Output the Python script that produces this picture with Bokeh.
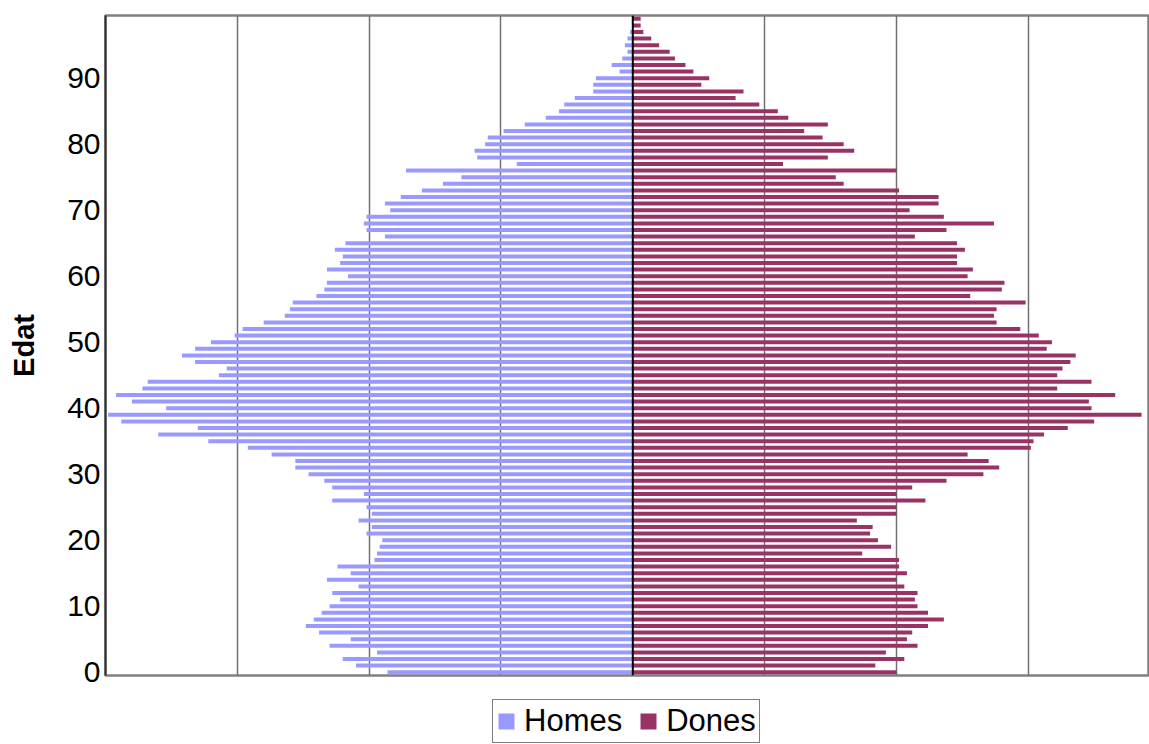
from bokeh.plotting import figure
from bokeh.layouts import column
from bokeh.models import Legend, LegendItem, Span, FixedTicker, ColumnDataSource, Range1d
from bokeh.embed import file_html
from bokeh.resources import INLINE

ages = list(range(100))
homes = [93, 105, 110, 97, 115, 107, 119, 124, 121, 118,
         115, 111, 114, 104, 116, 107, 112, 98, 97, 96,
         95, 101, 99, 104, 99, 101, 114, 102, 114, 117,
         123, 128, 128, 137, 146, 161, 180, 165, 194, 199,
         177, 190, 196, 186, 184, 157, 154, 166, 171, 166,
         160, 151, 148, 140, 132, 130, 129, 120, 117, 116,
         108, 116, 111, 110, 113, 109, 94, 101, 102, 101,
         92, 94, 88, 80, 72, 65, 86, 44, 59, 60,
         56, 55, 49, 41, 33, 28, 26, 22, 15, 15,
         14, 5, 8, 4, 2, 3, 2, 1, 0, 0]
dones = [100, 92, 103, 96, 108, 104, 106, 112, 118, 112,
         108, 107, 108, 103, 100, 104, 101, 101, 87, 98,
         93, 90, 91, 85, 100, 100, 111, 100, 106, 119,
         133, 139, 135, 127, 151, 152, 156, 165, 175, 193,
         174, 173, 183, 161, 174, 161, 163, 166, 168, 157,
         159, 154, 147, 138, 137, 138, 149, 128, 140, 141,
         127, 129, 123, 123, 126, 123, 107, 119, 137, 118,
         105, 116, 116, 101, 80, 77, 100, 57, 74, 84,
         80, 72, 65, 74, 59, 55, 48, 39, 42, 26,
         29, 23, 20, 16, 14, 10, 7, 4, 3, 3]
series_names = ["Homes", "Dones"]
series_colors = ["#9999FF", "#993366"]
y_ticks = [0, 10, 20, 30, 40, 50, 60, 70, 80, 90]
grid_ticks = [-150, -100, -50, 50, 100, 150]

FONT = "Liberation Sans"

src = ColumnDataSource(dict(
    age=ages,
    m_left=[-v for v in homes],
    zero=[0] * len(ages),
    f_right=dones,
))

p = figure(frame_width=1044, frame_height=660, output_backend="svg", toolbar_location=None,
           x_range=Range1d(-200, 196), y_range=Range1d(-0.5, 99.5),
           min_border_left=105, min_border_right=0, min_border_top=15, min_border_bottom=12)

p.background_fill_color = "white"
p.border_fill_color = "white"
p.outline_line_color = "#808080"
p.outline_line_width = 2.5

p.hbar(y="age", left="m_left", right="zero", height=0.6, source=src,
       fill_color=series_colors[0], line_color=None)
p.hbar(y="age", left="zero", right="f_right", height=0.6, source=src,
       fill_color=series_colors[1], line_color=None)

p.xaxis.visible = False

p.xgrid.ticker = FixedTicker(ticks=grid_ticks)
p.xgrid.grid_line_color = "#707070"
p.xgrid.grid_line_width = 1.5
p.ygrid.grid_line_color = None

p.add_layout(Span(location=0, dimension="height", line_color="black", line_width=2))

p.yaxis.ticker = FixedTicker(ticks=y_ticks)
p.yaxis.major_tick_out = 0
p.yaxis.major_tick_in = 0
p.yaxis.minor_tick_out = 0
p.yaxis.minor_tick_in = 0
p.yaxis.major_label_standoff = 5
p.yaxis.major_label_text_font = FONT
p.yaxis.major_label_text_font_size = "30px"
p.yaxis.major_label_text_color = "black"
p.yaxis.axis_line_color = "#333333"
p.yaxis.axis_line_width = 2
p.yaxis.axis_label = "Edat"
p.yaxis.axis_label_text_font = FONT
p.yaxis.axis_label_text_font_size = "29px"
p.yaxis.axis_label_text_font_style = "bold"
p.yaxis.axis_label_text_color = "black"
p.yaxis.axis_label_standoff = 24

# Legend strip below the chart (its bars lie outside its own view; only the legend shows)
p2 = figure(width=1149, height=57, output_backend="svg", toolbar_location=None,
            x_range=Range1d(0, 1), y_range=Range1d(1000, 1001),
            min_border_left=0, min_border_right=0, min_border_top=0, min_border_bottom=0)
p2.axis.visible = False
p2.grid.visible = False
p2.outline_line_color = None
p2.background_fill_color = "white"
p2.border_fill_color = "white"

r1 = p2.hbar(y="age", left="m_left", right="zero", height=0.6, source=src,
             fill_color=series_colors[0], line_color=None)
r2 = p2.hbar(y="age", left="zero", right="f_right", height=0.6, source=src,
             fill_color=series_colors[1], line_color=None)
items = [LegendItem(label=series_names[0], renderers=[r1]),
         LegendItem(label=series_names[1], renderers=[r2])]

legend = Legend(items=items, location=(387, 1), orientation="horizontal")
legend.label_text_font = FONT
legend.label_text_font_size = "31px"
legend.label_text_color = "black"
legend.glyph_width = 20
legend.glyph_height = 20
legend.label_standoff = 8
legend.spacing = 16
legend.padding = 3
legend.margin = 0
legend.border_line_color = "black"
legend.border_line_width = 1
legend.background_fill_color = "white"
legend.background_fill_alpha = 1
p2.add_layout(legend)

layout = column(p, p2, spacing=0)
open("out.html", "w").write(file_html(layout, INLINE))
